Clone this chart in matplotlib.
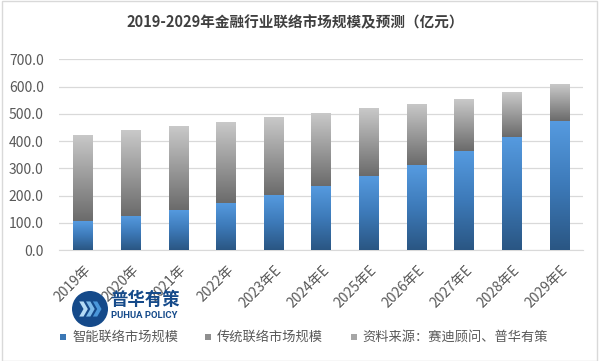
import numpy as np
import matplotlib
matplotlib.use("Agg")
import matplotlib.pyplot as plt
import matplotlib.transforms as mtransforms
from matplotlib.patches import Rectangle, Circle, Polygon
from matplotlib.colors import LinearSegmentedColormap

plt.rcParams['font.family'] = ['Noto Sans CJK SC', 'DejaVu Sans']

categories = ['2019年', '2020年', '2021年', '2022年', '2023年E', '2024年E',
              '2025年E', '2026年E', '2027年E', '2028年E', '2029年E']
smart = [106, 126, 147, 174, 203, 236, 273, 312, 365, 416, 475]
total = [422, 441, 455, 470, 488, 503, 521, 536, 554, 580, 609]
traditional = [t - s for t, s in zip(total, smart)]
yticks = [0, 100, 200, 300, 400, 500, 600, 700]
title = '2019-2029年金融行业联络市场规模及预测（亿元）'
legend_labels = ['智能联络市场规模', '传统联络市场规模', '资料来源：赛迪顾问、普华有策']

W, H = 601, 361
fig = plt.figure(figsize=(W / 100, H / 100), dpi=100)
ax = fig.add_axes([59 / W, 1 - 250 / H, (583 - 59) / W, (250 - 59.3) / H])

x = np.arange(len(categories))
bw = 0.4
b1 = ax.bar(x, smart, width=bw, color='none', zorder=3)
b2 = ax.bar(x, traditional, bottom=smart, width=bw, color='none', zorder=3)

blue_cmap = LinearSegmentedColormap.from_list('b', ['#2a5683', '#3d7ab9', '#569be0'])
grey_cmap = LinearSegmentedColormap.from_list('g', ['#6b6b6b', '#9a9a9a', '#c9c9c9'])
grad = np.linspace(0, 1, 256).reshape(-1, 1)
for bars, cmap in ((b1, blue_cmap), (b2, grey_cmap)):
    for p in bars:
        x0, y0 = p.get_x(), p.get_y()
        w, h = p.get_width(), p.get_height()
        im = ax.imshow(grad, cmap=cmap, origin='lower', aspect='auto',
                       extent=[x0, x0 + w, y0, y0 + h], zorder=3)
        im.set_clip_path(p)

ax.set_xlim(-0.5, len(categories) - 0.5)
ax.set_ylim(0, 700)
ax.set_yticks(yticks)
ax.set_yticklabels([f'{v:.1f}' for v in yticks], fontsize=10, color='#595959')
ax.set_xticks(x)
ax.set_xticklabels(categories, fontsize=10, color='#595959', rotation=45,
                   ha='right', va='center', rotation_mode='anchor')
ax.tick_params(axis='both', length=0)
ax.tick_params(axis='y', pad=11)
ax.tick_params(axis='x', pad=13)
ax.grid(axis='y', color='#d9d9d9', linewidth=0.9, zorder=0)
for s in ['top', 'right', 'left']:
    ax.spines[s].set_visible(False)
ax.spines['bottom'].set_color('#d9d9d9')
ax.set_axisbelow(True)

offset = mtransforms.ScaledTranslation(6 / 100, 0, fig.dpi_scale_trans)
for lbl in ax.get_xticklabels():
    lbl.set_transform(lbl.get_transform() + offset)

fig.text(295 / W, 1 - 22 / H, title, ha='center', va='center', fontsize=10.5,
         fontweight='bold', color='#404040')

# legend
leg_y = 1 - 337 / H
sq = 6
items = [(60, '#3b77b5', 72), (205, '#8f8f8f', 217), (351, '#a6a6a6', 362)]
for (sx, col, tx), lab in zip(items, legend_labels):
    fig.patches.append(Rectangle((sx / W, leg_y - sq / 2 / H), sq / W, sq / H,
                                 transform=fig.transFigure, facecolor=col,
                                 edgecolor='none'))
    fig.text(tx / W, leg_y, lab, ha='left', va='center', fontsize=9.5, color='#595959')

# logo watermark
cx, cy, r = 90, 309, 18
circ_ax = fig.add_axes([(cx - r) / W, 1 - (cy + r) / H, 2 * r / W, 2 * r / H])
circ_ax.set_xlim(-1, 1)
circ_ax.set_ylim(-1, 1)
circ_ax.axis('off')
circ_ax.add_patch(Circle((0, 0), 1, facecolor='#154a8a', edgecolor='none'))
for i, col in enumerate(['#b5dbf5', '#7dbbea', '#4a97da']):
    dx = -0.6 + i * 0.38
    circ_ax.add_patch(Polygon([[dx, 0.42], [dx + 0.24, 0.42], [dx + 0.48, 0.0],
                               [dx + 0.24, -0.42], [dx, -0.42], [dx + 0.24, 0.0]],
                              closed=True, facecolor=col, edgecolor='none'))
fig.text(110 / W, 1 - 300 / H, '普华有策', ha='left', va='center', fontsize=12.5,
         fontweight='bold', color='#154a8a')
fig.text(111 / W, 1 - 316 / H, 'PUHUA POLICY', ha='left', va='center', fontsize=6.8,
         fontweight='bold', color='#154a8a', family=['Roboto', 'DejaVu Sans'])

# outer border
fig.patches.append(Rectangle((1.5 / W, 0.5 / H), (597 - 1.5) / W, (360 - 0.5) / H,
                             transform=fig.transFigure, facecolor='none',
                             edgecolor='#d9d9d9', linewidth=1.0))

fig.savefig('out.png', dpi=100)
